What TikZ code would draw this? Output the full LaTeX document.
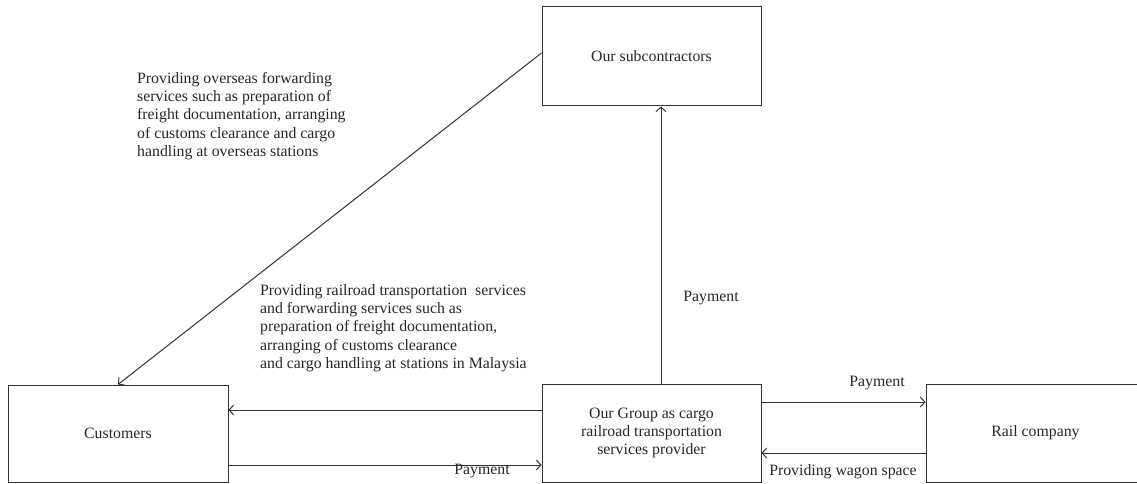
\documentclass[tikz,border=0pt]{standalone}
\usepackage{fontspec}
\setmainfont{Liberation Serif}
\usetikzlibrary{arrows.meta}
\begin{document}
\begin{tikzpicture}[x=1pt,y=-1pt,
  box/.style={draw=black!80, line width=1pt, inner sep=0pt, align=center, font=\fontsize{15.8}{18}\selectfont, text=black!85},
  lbl/.style={inner sep=0pt, font=\fontsize{15.8}{18.3}\selectfont, text=black!85},
  conn/.style={draw=black!80, line width=1pt},
  arr/.style={conn, -{Straight Barb[length=4.5pt,width=10pt,line width=1pt]}}]
\useasboundingbox (0,0) rectangle (1137,484);
\node[box, minimum width=219pt, minimum height=99pt] (sub) at (651.5,56.5) {Our subcontractors};
\node[box, minimum width=220pt, minimum height=97pt] (cust) at (118,433.5) {Customers};
\node[box, minimum width=219pt, minimum height=98pt] (grp) at (651.5,433) {Our Group as cargo\\railroad transportation\\services provider};
\node[box, minimum width=219pt, minimum height=98pt] (rail) at (1035.5,433) {Rail company};
% connectors
\draw[arr] ([yshift=3.5pt]sub.west) -- (cust.north);
\draw[arr] ([xshift=9.5pt]grp.north) -- ([xshift=9.5pt]sub.south);
\coordinate (g1) at ([yshift=23pt]grp.west);
\draw[arr] (g1) -- (g1 -| cust.east);
\coordinate (c1) at ([yshift=-31.5pt]cust.east);
\draw[arr] (c1) -- (c1 -| grp.west);
\coordinate (g2) at ([yshift=31pt]grp.east);
\draw[arr] (g2) -- (g2 -| rail.west);
\coordinate (r1) at ([yshift=-20pt]rail.west);
\draw[arr] (r1) -- (r1 -| grp.east);
% labels
\node[lbl, anchor=north west, align=left] (t1) at (137,72) {Providing overseas forwarding\\services such as preparation of\\freight documentation, arranging\\of customs clearance and cargo\\handling at overseas stations};
\node[lbl, anchor=north west, align=left] (t2) at (260,284) {Providing railroad transportation\ \ services\\and forwarding services such as\\preparation of freight documentation,\\arranging of customs clearance\\and cargo handling at stations in Malaysia};
\node[lbl] (p1) at (711,298) {Payment};
\node[lbl] (p2) at (482,471) {Payment};
\node[lbl] (p3) at (877,383) {Payment};
\node[lbl] (w1) at (843,472) {Providing wagon space};
\end{tikzpicture}
\end{document}
